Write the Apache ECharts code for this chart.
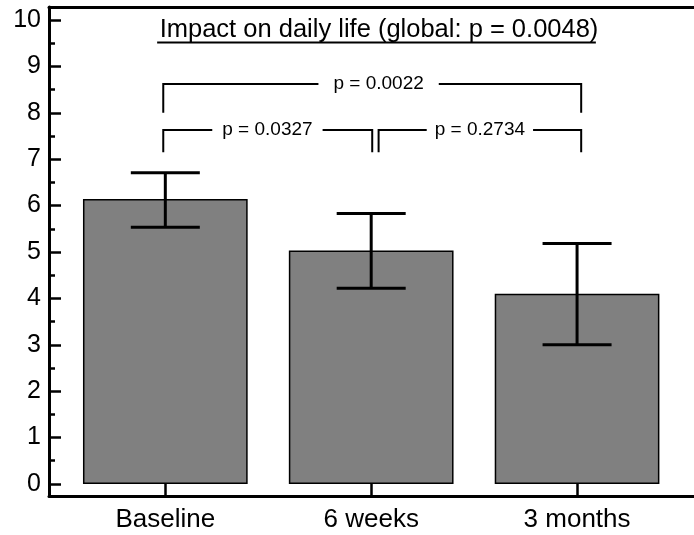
<!DOCTYPE html>
<html><head><meta charset="utf-8">
<script src="https://cdn.jsdelivr.net/npm/echarts@6/dist/echarts.min.js"></script>
<style>html,body{margin:0;padding:0;background:#fff}#c{width:694px;height:535px}</style>
</head><body><div id="c"></div>
<script>
var categories = ['Baseline', '6 weeks', '3 months'];
var means = [6.14, 5.03, 4.10];
var errHigh = [6.71, 5.83, 5.18];
var errLow = [5.53, 4.22, 3.00];
var yTicks = [0,1,2,3,4,5,6,7,8,9,10];
var yMinorTicks = [0.5,1.5,2.5,3.5,4.5,5.5,6.5,7.5,8.5,9.5];
var titleText = 'Impact on daily life (global: p = 0.0048)';
// brackets: [x start, x end, y line, y drop, label x, label]
var bracketStart = [-0.01, -0.01, 1.036];
var bracketEnd = [2.02, 1.005, 2.02];
var bracketY = [8.62, 7.63, 7.63];
var bracketDrop = [8.0, 7.15, 7.15];
var bracketLabelX = [1.036, 0.496, 1.528];
var bracketLabels = ['p = 0.0022', 'p = 0.0327', 'p = 0.2734'];
var bracketGapPad = [15, 10, 8];

var FONT = '"Liberation Sans", Arial, sans-serif';
var TITLE_SIZE = 25.5;
var chart = echarts.init(document.getElementById('c'), null, {renderer: 'canvas'});
var xMin = -0.565, xMax = 2.568, yMin = -0.26, yMax = 10.28;

var option = {
  animation: false,
  backgroundColor: '#fff',
  title: {
    text: titleText, left: 374, textAlign: 'center', top: 12,
    textStyle: {fontFamily: FONT, fontSize: TITLE_SIZE, fontWeight: 'normal', color: '#000'}
  },
  grid: {left: 49, right: -5, top: 7, bottom: 39, containLabel: false},
  xAxis: [{
    type: 'value', min: xMin, max: xMax, position: 'bottom',
    splitLine: {show: false},
    axisLine: {show: true, onZero: false, lineStyle: {color: '#000', width: 3}},
    axisTick: {show: true, inside: true, length: 12, lineStyle: {color: '#000', width: 2.5}, customValues: [0,1,2]},
    axisLabel: {show: true, customValues: [0,1,2], formatter: function (v) { return categories[Math.round(v)]; },
      fontFamily: FONT, fontSize: 26, color: '#000', margin: 11}
  }, {
    type: 'value', min: xMin, max: xMax, position: 'top',
    splitLine: {show: false},
    axisLine: {show: true, onZero: false, lineStyle: {color: '#000', width: 3}},
    axisTick: {show: false}, axisLabel: {show: false}
  }],
  yAxis: [{
    type: 'value', min: yMin, max: yMax, position: 'left',
    splitLine: {show: false},
    axisLine: {show: true, onZero: false, lineStyle: {color: '#000', width: 3}},
    axisTick: {show: true, inside: true, length: 12, lineStyle: {color: '#000', width: 2.5}, customValues: yTicks},
    axisLabel: {show: true, customValues: yTicks, fontFamily: FONT, fontSize: 25, color: '#000', margin: 8}
  }, {
    type: 'value', min: yMin, max: yMax, position: 'left',
    splitLine: {show: false},
    axisLine: {show: false, onZero: false},
    axisTick: {show: true, inside: true, length: 6, lineStyle: {color: '#000', width: 2.5}, customValues: yMinorTicks},
    axisLabel: {show: false}
  }],
  series: [{
    type: 'bar', xAxisIndex: 0, yAxisIndex: 0,
    data: means.map(function (v, i) { return [i, v]; }),
    barWidth: '80%',
    itemStyle: {color: '#808080', borderColor: '#000', borderWidth: 1.5}
  }, {
    type: 'custom', xAxisIndex: 0, yAxisIndex: 0, z: 5,
    data: means.map(function (v, i) { return [i, errLow[i], errHigh[i]]; }),
    renderItem: function (params, api) {
      var lo = api.coord([api.value(0), api.value(1)]);
      var hi = api.coord([api.value(0), api.value(2)]);
      var hw = 34.5;
      var st = {stroke: '#000', lineWidth: 3};
      return {type: 'group', children: [
        {type: 'line', shape: {x1: lo[0], y1: lo[1], x2: hi[0], y2: hi[1]}, style: st},
        {type: 'line', shape: {x1: hi[0] - hw, y1: hi[1], x2: hi[0] + hw, y2: hi[1]}, style: st},
        {type: 'line', shape: {x1: lo[0] - hw, y1: lo[1], x2: lo[0] + hw, y2: lo[1]}, style: st}
      ]};
    }
  }, {
    type: 'custom', xAxisIndex: 0, yAxisIndex: 0, z: 6,
    data: bracketLabels.map(function (t, i) { return [bracketStart[i], bracketEnd[i], bracketY[i], bracketDrop[i], bracketLabelX[i], i]; }),
    renderItem: function (params, api) {
      var i = api.value(5);
      var a = api.coord([api.value(0), api.value(2)]);
      var b = api.coord([api.value(1), api.value(2)]);
      var ad = api.coord([api.value(0), api.value(3)]);
      var bd = api.coord([api.value(1), api.value(3)]);
      var lc = api.coord([api.value(4), api.value(2)]);
      return {type: 'group', children: [
        {type: 'polyline', shape: {points: [[ad[0], ad[1]], [a[0], a[1]], [b[0], b[1]], [bd[0], bd[1]]]}, style: {stroke: '#000', lineWidth: 2, fill: null}},
        {type: 'text', z2: 10, x: lc[0], y: lc[1], style: {text: bracketLabels[i], fontFamily: FONT, fontSize: 19, fill: '#000',
          align: 'center', verticalAlign: 'middle', backgroundColor: '#fff', padding: [2, bracketGapPad[i], 2, bracketGapPad[i]]}}
      ]};
    }
  }],
  graphic: []
};
chart.setOption(option);

(function () {
  var w = echarts.format && echarts.format.getTextRect ? echarts.format.getTextRect(titleText, TITLE_SIZE + 'px ' + FONT).width : 437;
  chart.setOption({graphic: [{type: 'line', left: 374 - w / 2, top: 40, shape: {x1: 0, y1: 0, x2: w, y2: 0}, style: {stroke: '#000', lineWidth: 2}}]});
})();
</script></body></html>
